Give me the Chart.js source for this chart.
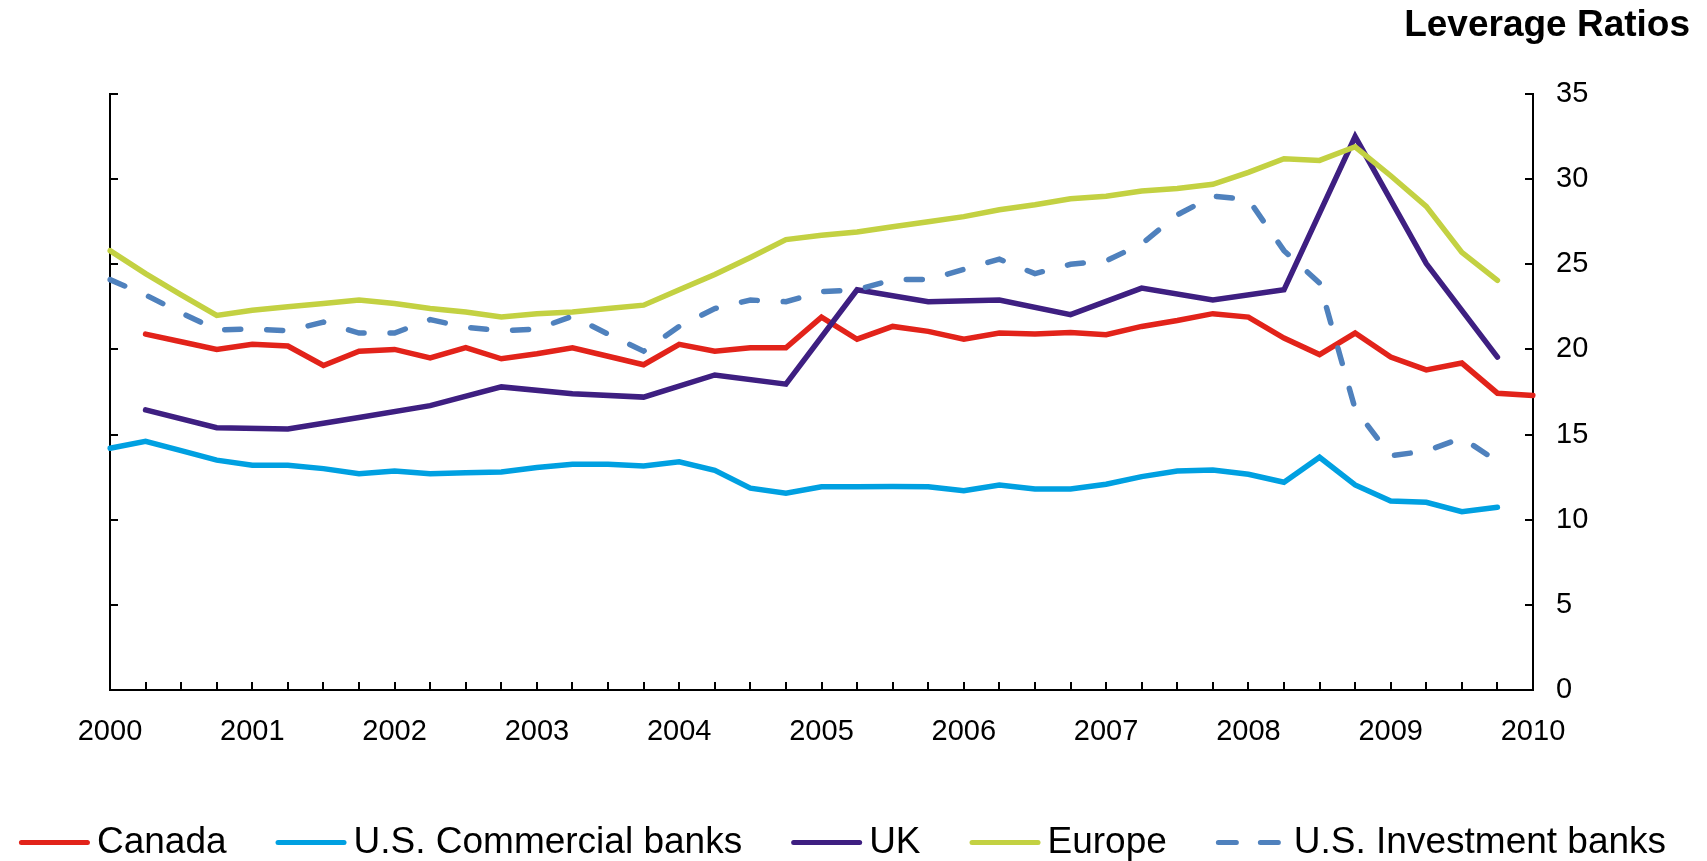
<!DOCTYPE html>
<html>
<head>
<meta charset="utf-8">
<title>Leverage Ratios</title>
<script src="https://cdn.jsdelivr.net/npm/chart.js@4/dist/chart.umd.min.js"></script>
<style>
  html, body { margin: 0; padding: 0; background: #ffffff; }
  #wrap { width: 1707px; height: 861px; position: relative; }
</style>
</head>
<body>
<div id="wrap"><canvas id="chart"></canvas></div>
<script>
// Quarterly observations, 2000Q1 .. 2010Q1
const quarters = [];
for (let y = 2000; y <= 2010; y++) {
  for (let q = 1; q <= 4; q++) {
    if (y === 2010 && q > 1) break;
    quarters.push(y + 'Q' + q);
  }
}
const yearLabels = ['2000','2001','2002','2003','2004','2005','2006','2007','2008','2009','2010'];
const yTicks = [0, 5, 10, 15, 20, 25, 30, 35];

const canada = [null, 20.9, 20.45, 20.0, 20.3, 20.2, 19.06, 19.9, 20.0, 19.5, 20.1, 19.45, 19.75, 20.1, 19.6,
  19.1, 20.3, 19.9, 20.1, 20.1, 21.9, 20.6, 21.35, 21.06, 20.6, 20.96, 20.9, 21.0, 20.86, 21.35,
  21.7, 22.1, 21.9, 20.67, 19.7, 20.96, 19.55, 18.8, 19.2, 17.43, 17.3];

const usCommercial = [14.2, 14.6, 14.06, 13.5, 13.2, 13.2, 13.0, 12.7, 12.86, 12.7, 12.76, 12.8, 13.06, 13.25, 13.25,
  13.15, 13.4, 12.9, 11.85, 11.55, 11.94, 11.94, 11.95, 11.94, 11.7, 12.04, 11.8, 11.8, 12.08, 12.53,
  12.86, 12.92, 12.67, 12.2, 13.67, 12.04, 11.1, 11.02, 10.47, 10.73, null];

// UK is reported semi-annually
const uk = [null, 16.45, null, 15.4, null, 15.33, null, 16.0, null, 16.7, null, 17.8, null, 17.4, null,
  17.2, null, 18.5, null, 17.96, null, 23.5, null, 22.8, null, 22.9, null, 22.04, null, 23.6,
  null, 22.9, null, 23.5, null, 32.5, null, 25.04, null, 19.55, null];

const europe = [25.8, 24.45, 23.2, 22.0, 22.3, 22.5, 22.7, 22.9, 22.7, 22.4, 22.2, 21.9, 22.1, 22.2, 22.4,
  22.6, 23.5, 24.4, 25.4, 26.45, 26.7, 26.9, 27.2, 27.5, 27.8, 28.2, 28.5, 28.85, 29.0, 29.3,
  29.45, 29.7, 30.4, 31.2, 31.1, 31.9, 30.2, 28.4, 25.7, 24.06, null];

const usInvestment = [24.1, 23.2, 22.15, 21.15, 21.2, 21.1, 21.6, 20.96, 20.96, 21.75, 21.3, 21.1, 21.2, 21.95, 20.9,
  19.9, 21.35, 22.4, 22.9, 22.8, 23.4, 23.5, 24.1, 24.1, 24.7, 25.3, 24.45, 25.0, 25.2, 26.2,
  27.9, 29.0, 28.8, 25.8, 23.9, 16.5, 13.75, 14.04, 14.8, 13.43, null];

const FONT = '"Liberation Sans", Arial, Helvetica, sans-serif';
const BLACK = '#000000';

function series(label, data, color, order, extra) {
  return Object.assign({
    label: label,
    data: data,
    borderColor: color,
    backgroundColor: color,
    borderWidth: 5.5,
    borderCapStyle: 'round',
    borderJoinStyle: 'miter',
    pointRadius: 0,
    pointHoverRadius: 0,
    tension: 0,
    fill: false,
    order: order
  }, extra || {});
}

// Single-row legend along the bottom edge: short line sample, then the series name
const bottomLegend = {
  id: 'bottomLegend',
  afterDraw(chart) {
    const ctx = chart.ctx;
    ctx.save();
    ctx.font = '37px ' + FONT;
    const items = chart.data.datasets.map(ds => {
      const dashed = Array.isArray(ds.borderDash) && ds.borderDash.length > 0;
      const lineW = dashed ? 65 : 71;
      const gap = dashed ? 13 : 7;
      const textW = ctx.measureText(ds.label).width;
      return { ds, dashed, lineW, gap, textW, w: lineW + gap + textW };
    });
    const itemGap = 49;
    const total = items.reduce((s, it) => s + it.w, 0) + itemGap * (items.length - 1);
    let x = 842.5 - total / 2;
    const y = 842.5;
    items.forEach(it => {
      ctx.beginPath();
      ctx.strokeStyle = it.ds.borderColor;
      ctx.lineWidth = 5;
      ctx.lineCap = 'round';
      ctx.setLineDash(it.dashed ? [18, 24] : []);
      ctx.moveTo(x + 2.5, y);
      ctx.lineTo(x + it.lineW - 2.5, y);
      ctx.stroke();
      ctx.setLineDash([]);
      ctx.fillStyle = BLACK;
      ctx.textBaseline = 'middle';
      ctx.textAlign = 'left';
      ctx.fillText(it.ds.label, x + it.lineW + it.gap, y);
      x += it.w + itemGap;
    });
    ctx.restore();
  }
};

const axisGrid = {
  display: true,
  drawOnChartArea: false,
  drawTicks: true,
  tickLength: -8,
  color: BLACK,
  lineWidth: 2
};
const axisBorder = { display: true, color: BLACK, width: 2 };

new Chart(document.getElementById('chart'), {
  type: 'line',
  data: {
    labels: quarters,
    datasets: [
      series('Canada', canada, '#E2231A', 5),
      series('U.S. Commercial banks', usCommercial, '#00A0E1', 4),
      series('UK', uk, '#3E1F81', 3, { spanGaps: true }),
      series('Europe', europe, '#C3D142', 2),
      series('U.S. Investment banks', usInvestment, '#4F81BD', 1, { borderDash: [16, 26] })
    ]
  },
  plugins: [bottomLegend],
  options: {
    responsive: true,
    maintainAspectRatio: false,
    devicePixelRatio: 1,
    animation: false,
    events: [],
    layout: { padding: { left: 0, right: 17, top: 0, bottom: 0 } },
    plugins: {
      tooltip: { enabled: false },
      legend: { display: false },
      title: {
        display: true,
        text: 'Leverage Ratios',
        align: 'end',
        color: BLACK,
        font: { family: FONT, size: 37, weight: 'bold', lineHeight: 1.2 },
        padding: { top: 4, bottom: 45.6 }
      }
    },
    scales: {
      x: {
        type: 'category',
        offset: false,
        grid: Object.assign({ offset: false }, axisGrid),
        border: axisBorder,
        ticks: {
          autoSkip: false,
          maxRotation: 0,
          minRotation: 0,
          padding: 33,
          color: BLACK,
          font: { family: FONT, size: 29 },
          callback: (value, index) => (index % 4 === 0 ? yearLabels[index / 4] : '')
        },
        afterFit: (scale) => { scale.height = 171; }
      },
      y: {
        position: 'right',
        min: 0,
        max: 35,
        grid: axisGrid,
        border: axisBorder,
        afterBuildTicks: (scale) => { scale.ticks = yTicks.map(v => ({ value: v })); },
        ticks: {
          padding: 31,
          color: BLACK,
          font: { family: FONT, size: 29 }
        },
        afterFit: (scale) => { scale.width = 157; }
      },
      y2: {
        position: 'left',
        min: 0,
        max: 35,
        grid: axisGrid,
        border: axisBorder,
        afterBuildTicks: (scale) => { scale.ticks = yTicks.map(v => ({ value: v })); },
        ticks: { display: false },
        afterFit: (scale) => { scale.width = 110; }
      }
    }
  }
});
</script>
</body>
</html>
